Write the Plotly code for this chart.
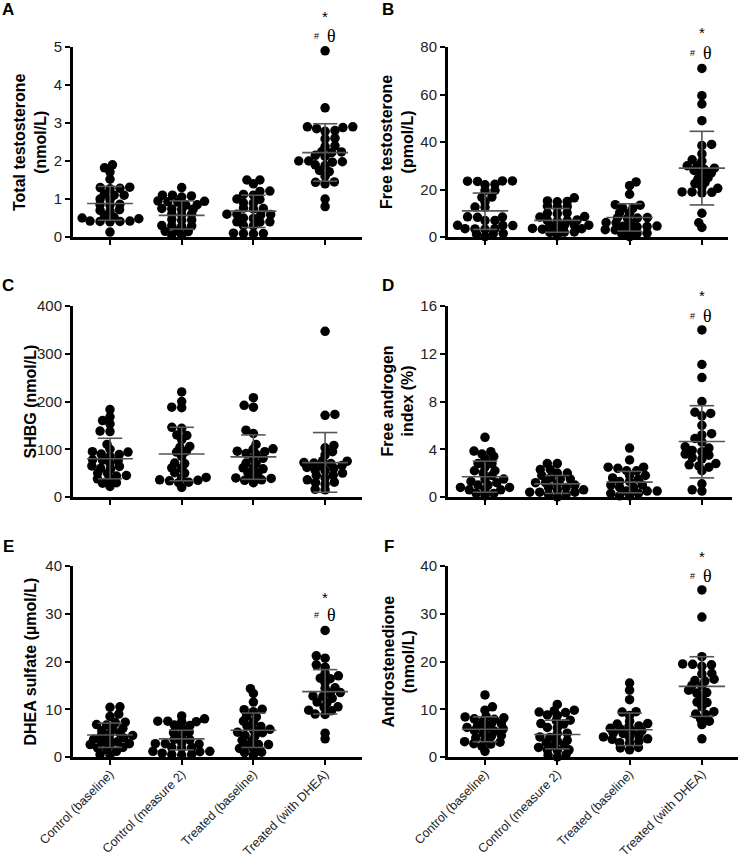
import math
import plotly.graph_objects as go

W, H = 739, 858

categories = ["Control (baseline)", "Control (measure 2)", "Treated (baseline)", "Treated (with DHEA)"]

# ---------------- Panel A: Total testosterone (nmol/L)
A_cb = [1.90, 1.82, 1.71, 1.52, 1.31, 1.30, 1.28, 1.27, 1.13, 1.10, 1.10, 1.00, 0.98, 0.86, 0.85, 0.84,
        0.72, 0.70, 0.68, 0.56, 0.52, 0.50, 0.48, 0.42, 0.42, 0.41, 0.41, 0.40, 0.13]
A_cm2 = [1.30, 1.10, 1.10, 1.08, 1.05, 0.95, 0.94, 0.93, 0.92, 0.85, 0.84, 0.75, 0.74, 0.73, 0.72, 0.60,
         0.60, 0.58, 0.46, 0.45, 0.44, 0.30, 0.30, 0.29, 0.28, 0.16, 0.15, 0.14, 0.05, 0.04]
A_tb = [1.50, 1.50, 1.40, 1.21, 1.20, 1.12, 1.10, 1.00, 0.99, 0.90, 0.89, 0.76, 0.75, 0.74, 0.60, 0.60,
        0.59, 0.58, 0.50, 0.49, 0.40, 0.40, 0.39, 0.30, 0.29, 0.10, 0.09, 0.09, 0.08]
A_td = [4.90, 3.40, 2.90, 2.90, 2.88, 2.85, 2.80, 2.78, 2.60, 2.58, 2.40, 2.38, 2.25, 2.24, 2.22, 2.15,
        2.12, 2.00, 2.00, 1.98, 1.97, 1.90, 1.88, 1.75, 1.72, 1.60, 1.45, 1.44, 1.40, 1.00, 0.80]
A_mean = [0.88, 0.57, 0.68, 2.22]
A_hi = [1.33, 0.95, 1.10, 2.98]
A_lo = [0.44, 0.21, 0.25, 1.47]

# ---------------- Panel B: Free testosterone (pmol/L)
B_cb = [23.6, 23.6, 23.5, 23.4, 22.2, 22.0, 19.6, 19.5, 16.8, 16.7, 14.7, 12.6, 12.5, 8.5, 8.4, 8.3,
        7.0, 6.9, 4.9, 4.8, 4.8, 3.5, 3.5, 3.4, 3.3, 1.5, 1.4, 1.3, 0.2]
B_cm2 = [16.5, 15.2, 15.0, 14.8, 13.0, 12.8, 12.6, 10.2, 10.0, 9.8, 8.6, 8.4, 7.2, 7.0, 6.9, 6.8,
         5.0, 5.0, 4.9, 4.8, 3.6, 3.5, 3.4, 3.3, 2.1, 2.0, 1.9, 0.5]
B_tb = [23.2, 21.6, 18.0, 13.6, 13.4, 12.2, 12.0, 10.2, 10.0, 8.2, 8.1, 8.0, 7.9, 6.1, 6.0, 5.9,
        4.6, 4.5, 4.4, 4.3, 3.1, 3.0, 2.9, 1.6, 1.5, 1.4, 0.1]
B_td = [71.0, 59.5, 56.0, 49.0, 39.0, 38.5, 35.0, 32.5, 32.0, 30.0, 30.0, 29.0, 28.5, 28.0, 27.0, 26.5,
        25.0, 24.5, 23.0, 22.5, 21.0, 20.5, 19.0, 19.0, 18.8, 18.6, 10.0, 6.0, 4.0]
B_mean = [11.0, 7.0, 8.2, 29.0]
B_hi = [18.5, 12.0, 14.0, 44.5]
B_lo = [3.2, 2.0, 2.5, 13.5]

# ---------------- Panel C: SHBG (nmol/L)
C_cb = [183, 168, 160, 153, 138, 137, 110, 100, 95, 94, 90, 89, 85, 78, 77, 76, 70, 65, 64, 60, 59,
        50, 49, 45, 44, 38, 37, 30, 29, 22]
C_cm2 = [220, 200, 188, 187, 146, 144, 130, 129, 120, 106, 104, 96, 94, 85, 71, 70, 61, 60, 51, 50,
         41, 40, 36, 35, 34, 31, 30, 20]
C_tb = [208, 192, 188, 140, 133, 110, 101, 100, 96, 95, 91, 90, 81, 80, 71, 70, 61, 60, 59, 51, 50,
        41, 40, 39, 36, 35, 30]
C_td = [347, 173, 171, 108, 103, 95, 88, 76, 75, 72, 71, 70, 66, 65, 62, 60, 56, 55, 50, 46, 45, 40,
        36, 31, 30, 27, 16, 15]
C_mean = [80, 90, 84, 72]
C_hi = [123, 146, 130, 135]
C_lo = [38, 34, 37, 10]

# ---------------- Panel D: Free androgen index (%)
D_cb = [5.0, 3.85, 3.8, 3.6, 3.4, 3.2, 2.8, 2.8, 2.5, 2.2, 2.2, 2.0, 1.8, 1.5, 1.5, 1.3, 1.2, 1.0, 1.0,
        0.8, 0.8, 0.6, 0.6, 0.6, 0.3, 0.3, 0.1]
D_cm2 = [2.8, 2.8, 2.3, 2.3, 2.0, 2.0, 1.8, 1.6, 1.5, 1.5, 1.2, 1.2, 1.1, 1.0, 0.8, 0.8, 0.6, 0.6,
         0.4, 0.4, 0.4, 0.2, 0.2, 0.0]
D_tb = [4.1, 3.1, 2.5, 2.5, 2.4, 2.2, 2.2, 1.8, 1.8, 1.6, 1.5, 1.3, 1.3, 1.0, 1.0, 0.8, 0.8, 0.5,
        0.5, 0.5, 0.3, 0.3, 0.1, 0.1]
D_td = [14.0, 11.1, 10.0, 8.0, 7.1, 7.0, 6.8, 6.0, 5.3, 5.2, 4.9, 4.6, 4.2, 4.1, 3.9, 3.8, 3.6, 3.5,
        3.3, 3.2, 2.8, 2.7, 2.6, 2.5, 2.2, 1.1, 0.6, 0.5]
D_mean = [1.7, 1.1, 1.25, 4.65]
D_hi = [3.0, 1.8, 2.15, 7.65]
D_lo = [0.4, 0.3, 0.35, 1.6]

# ---------------- Panel E: DHEA sulfate (µmol/L)
E_cb = [10.5, 10.4, 9.0, 8.5, 7.3, 7.2, 6.8, 6.7, 6.0, 5.9, 5.5, 5.0, 4.9, 4.5, 4.4, 4.0, 3.8, 3.7,
        3.2, 3.1, 2.8, 2.6, 2.5, 2.0, 1.9, 1.5, 1.2, 0.5, 0.4]
E_cm2 = [8.6, 8.0, 7.5, 7.5, 7.4, 7.4, 6.7, 6.6, 6.0, 5.2, 5.1, 4.5, 3.7, 3.6, 3.0, 2.8, 2.8, 2.7,
         2.0, 2.0, 1.9, 1.2, 1.2, 1.1, 0.8, 0.5, 0.5, 0.4]
E_tb = [14.3, 13.3, 11.5, 10.0, 9.9, 9.5, 8.5, 8.4, 7.5, 7.4, 6.5, 6.4, 5.8, 5.7, 5.2, 5.1, 4.5, 4.4,
        3.5, 3.4, 2.6, 2.6, 2.5, 1.8, 1.7, 1.0, 0.9, 0.4]
E_td = [26.5, 21.2, 20.7, 19.3, 18.8, 17.5, 17.0, 16.5, 16.4, 15.5, 14.5, 14.4, 13.5, 13.4, 12.8,
        12.7, 12.3, 11.5, 11.4, 10.5, 10.4, 9.8, 9.7, 9.0, 8.9, 5.0, 3.8]
E_mean = [4.6, 3.8, 5.6, 13.7]
E_hi = [7.1, 5.6, 9.2, 18.3]
E_lo = [2.0, 1.5, 2.0, 9.0]

# ---------------- Panel F: Androstenedione (nmol/L)
F_cb = [13.0, 10.5, 9.8, 8.5, 8.4, 8.2, 8.0, 7.9, 7.5, 7.0, 6.9, 6.5, 6.2, 6.0, 5.9, 5.5, 5.4, 5.0,
        4.5, 4.4, 4.0, 3.6, 3.2, 3.1, 2.8, 2.7, 2.2, 1.2]
F_cm2 = [11.0, 9.8, 9.7, 9.4, 9.3, 8.8, 8.7, 7.7, 7.6, 7.0, 6.9, 6.2, 6.1, 5.0, 4.9, 4.2, 4.1, 3.5,
         3.4, 3.0, 2.5, 2.4, 2.0, 1.5, 1.5, 1.4, 0.5, 0.4, 0.0]
F_tb = [15.5, 14.0, 12.0, 9.5, 9.4, 8.7, 7.5, 7.0, 6.9, 6.5, 6.4, 6.0, 5.9, 5.5, 5.4, 5.0, 4.9, 4.5,
        4.2, 4.1, 3.8, 3.7, 3.3, 3.0, 2.9, 2.0, 1.9, 1.5]
F_td = [35.0, 29.3, 21.0, 19.5, 19.4, 19.3, 19.0, 17.5, 17.4, 16.3, 16.0, 15.9, 15.0, 14.9, 14.0,
        13.5, 13.4, 12.5, 11.5, 11.4, 10.5, 9.5, 9.0, 8.9, 8.0, 7.5, 6.8, 3.8]
F_mean = [5.8, 4.7, 5.7, 14.8]
F_hi = [8.4, 7.7, 9.2, 21.0]
F_lo = [3.2, 1.7, 2.4, 8.5]

y_titles = {
    "A": "Total testosterone<br>(nmol/L)",
    "B": "Free testosterone<br>(pmol/L)",
    "C": "SHBG (nmol/L)",
    "D": "Free androgen<br>index (%)",
    "E": "DHEA sulfate (µmol/L)",
    "F": "Androstenedione<br>(nmol/L)",
}
y_ticks = {
    "A": [0, 1, 2, 3, 4, 5],
    "B": [0, 20, 40, 60, 80],
    "C": [0, 100, 200, 300, 400],
    "D": [0, 4, 8, 12, 16],
    "E": [0, 10, 20, 30, 40],
    "F": [0, 10, 20, 30, 40],
}
# significance marks ("*" and "# θ") heights, data units
sig_marks = {"A": (5.79, 5.29), "B": (86, 77.5), "D": (16.9, 15.2), "E": (33.5, 29.8), "F": (42, 38)}

panels = {
    "A": ([A_cb, A_cm2, A_tb, A_td], A_mean, A_hi, A_lo),
    "B": ([B_cb, B_cm2, B_tb, B_td], B_mean, B_hi, B_lo),
    "C": ([C_cb, C_cm2, C_tb, C_td], C_mean, C_hi, C_lo),
    "D": ([D_cb, D_cm2, D_tb, D_td], D_mean, D_hi, D_lo),
    "E": ([E_cb, E_cm2, E_tb, E_td], E_mean, E_hi, E_lo),
    "F": ([F_cb, F_cm2, F_tb, F_td], F_mean, F_hi, F_lo),
}

# ---------------- layout geometry (pixels)
geom = {
    #      x0   x1   top  bottom tick0 step  letter(x,y)  title x
    "A": (73, 362, 47, 237, 110, 71.7, (8, 9), 30),
    "B": (448, 728, 47, 237, 485, 72.3, (388, 9), 397),
    "C": (73, 362, 306, 497, 110, 71.7, (8, 285), 30),
    "D": (448, 732, 306, 497, 485, 72.3, (388, 285), 397),
    "E": (73, 362, 566, 757, 110, 71.7, (8, 546), 30),
    "F": (448, 738, 566, 757, 485, 72.3, (389, 546), 398),
}

MARKER = 9.5
SEP_X = 10.0   # horizontal spacing of dots at equal value (px)
SEP_Y = 5.0    # vertical distance beyond which dots may stack (px)
FONT = "Arial, Liberation Sans, sans-serif"


def swarm(vals, px_y, px_x):
    """Anisotropic beeswarm: dots may overlap a little vertically, never sit on top of each other."""
    idx = sorted(range(len(vals)), key=lambda i: vals[i])
    placed = []
    out = [0.0] * len(vals)
    for k, i in enumerate(idx):
        y = vals[i] * px_y
        cands = [0.0]
        for xj, yj in placed:
            dy = abs(y - yj)
            if dy < SEP_Y:
                dx = SEP_X * math.sqrt(1 - (dy / SEP_Y) ** 2)
                cands += [xj + dx, xj - dx]
        sgn = 1 if k % 2 else -1
        cands.sort(key=lambda c: (round(abs(c), 3), sgn * c))
        best = 0.0
        for c in cands:
            if all(((c - xj) / SEP_X) ** 2 + ((y - yj) / SEP_Y) ** 2 >= 1 - 1e-6 for xj, yj in placed):
                best = c
                break
        placed.append((best, y))
        out[i] = best / px_x
    return out


fig = go.Figure()
annotations = []
layout = {}

for n, key in enumerate(["A", "B", "C", "D", "E", "F"]):
    groups, means, his, los = panels[key]
    x0, x1, top, bot, tick0, step, (lx, ly), tx = geom[key]
    ymax = y_ticks[key][-1]
    px_y = (bot - top) / ymax
    suffix = "" if n == 0 else str(n + 1)
    xa, ya = "x" + suffix, "y" + suffix

    xs, ys = [], []
    for gi, vals in enumerate(groups):
        offs = swarm(vals, px_y, step)
        xs += [gi + o for o in offs]
        ys += list(vals)
    fig.add_trace(go.Scatter(x=xs, y=ys, mode="markers", xaxis=xa, yaxis=ya,
                             marker=dict(size=MARKER, color="black", line=dict(width=0)),
                             cliponaxis=False, showlegend=False, hoverinfo="y"))

    lx_, ly_ = [], []
    for gi in range(4):
        m, hi, lo = means[gi], his[gi], los[gi]
        lx_ += [gi - 0.32, gi + 0.32, None, gi - 0.17, gi + 0.17, None,
                gi - 0.17, gi + 0.17, None, gi, gi, None]
        ly_ += [m, m, None, hi, hi, None, lo, lo, None, lo, hi, None]
    fig.add_trace(go.Scatter(x=lx_, y=ly_, mode="lines", xaxis=xa, yaxis=ya,
                             line=dict(color="#555555", width=1.6),
                             cliponaxis=False, showlegend=False, hoverinfo="skip"))

    show_lab = key in ("E", "F")
    layout["xaxis" + suffix] = dict(
        domain=[x0 / W, x1 / W], anchor=ya, automargin=False,
        range=[(x0 - tick0) / step, (x1 - tick0) / step],
        tickmode="array", tickvals=[0, 1, 2, 3], ticktext=categories,
        showticklabels=show_lab, tickangle=-45, ticklabelstandoff=-3,
        tickfont=dict(family=FONT, size=12.5, color="#222"),
        showline=True, linewidth=3, linecolor="black",
        ticks="outside", ticklen=5, tickwidth=2, tickcolor="black",
        showgrid=False, zeroline=False, fixedrange=True)
    layout["yaxis" + suffix] = dict(
        domain=[1 - bot / H, 1 - top / H], anchor=xa, automargin=False,
        range=[0, ymax], tickmode="array", tickvals=y_ticks[key],
        tickfont=dict(family=FONT, size=15, color="#222"),
        showline=True, linewidth=3, linecolor="black",
        ticks="outside", ticklen=5, tickwidth=2, tickcolor="black",
        showgrid=False, zeroline=False, fixedrange=True)

    annotations.append(dict(text="<b>%s</b>" % key, x=lx / W, y=1 - ly / H, xref="paper", yref="paper",
                            xanchor="center", yanchor="middle", showarrow=False,
                            font=dict(family=FONT, size=17, color="black")))
    annotations.append(dict(text="<b>%s</b>" % y_titles[key], x=tx / W, y=1 - (top + bot) / 2 / H,
                            xref="paper", yref="paper", xanchor="center", yanchor="middle",
                            textangle=-90, showarrow=False,
                            font=dict(family=FONT, size=16, color="black")))
    if key in sig_marks:
        ys_, yt_ = sig_marks[key]
        xp = (tick0 + 3 * step) / W
        ysp = 1 - (bot - ys_ * px_y) / H
        ytp = 1 - (bot - yt_ * px_y) / H
        annotations.append(dict(text="*", x=xp, y=ysp, xref="paper", yref="paper", showarrow=False,
                                xanchor="center", yanchor="middle",
                                font=dict(family=FONT, size=15, color="black")))
        annotations.append(dict(text="#", x=xp, y=ytp, xref="paper", yref="paper", showarrow=False,
                                xanchor="center", yanchor="middle", xshift=-9,
                                font=dict(family=FONT, size=9, color="black")))
        annotations.append(dict(text="θ", x=xp, y=ytp, xref="paper", yref="paper", showarrow=False,
                                xanchor="center", yanchor="middle", xshift=6,
                                font=dict(family="Times New Roman, Liberation Serif, serif", size=18,
                                          color="black")))

fig.update_layout(template="none", width=W, height=H, margin=dict(l=0, r=0, t=0, b=0, autoexpand=False),
                  paper_bgcolor="white", plot_bgcolor="white",
                  annotations=annotations, showlegend=False, **layout)

fig.write_html("out.html", config={"displayModeBar": False},
               post_script="document.body.style.margin='0';document.body.style.overflow='hidden';")
